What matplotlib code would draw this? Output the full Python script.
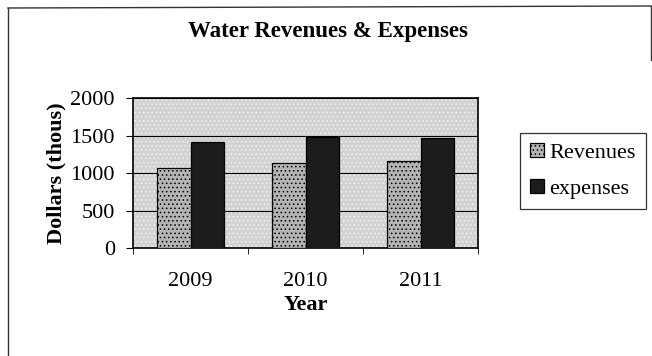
import numpy as np
import matplotlib.pyplot as plt
from matplotlib.lines import Line2D
from matplotlib.patches import Rectangle

plt.rcParams['font.family'] = ['Liberation Serif', 'DejaVu Serif']
plt.rcParams['hatch.linewidth'] = 0.6

years = ["2009", "2010", "2011"]
revenues = [1070, 1130, 1160]
expenses = [1420, 1480, 1470]

W, H = 652, 356
fig = plt.figure(figsize=(W / 100, H / 100), dpi=100)


def px(x, y):
    return x / W, 1 - y / H


# outer chart border (left, top, and a short piece on the right as in the scan)
for (x0, y0), (x1, y1) in [((8, 8), (8, 356)), ((8, 8), (651, 6)), ((651, 6), (651, 60))]:
    a, b = px(x0, y0)
    c, d = px(x1, y1)
    fig.add_artist(Line2D([a, c], [b, d], transform=fig.transFigure,
                          color="#333333", linewidth=1.0))

# plot area in pixels: x 133-478, y 98-248
ax = fig.add_axes([133 / W, 1 - 248 / H, (478 - 133) / W, (248 - 98) / H])
ax.set_facecolor("#d2d2d2")
ax.add_patch(Rectangle((0, 0), 1, 1, transform=ax.transAxes, fill=False,
                       hatch="....", edgecolor="#f2f2f2", linewidth=0, zorder=0))

x = np.arange(len(years))
bw = 0.29
rev_bars = ax.bar(x - bw / 2, revenues, bw, color="#b4b4b4", edgecolor="black",
                  linewidth=0.9, hatch="....", zorder=3)
exp_bars = ax.bar(x + bw / 2, expenses, bw, color="#1c1c1c", edgecolor="black",
                  linewidth=0.9, zorder=3)

ax.set_xlim(-0.5, 2.5)
ax.set_ylim(0, 2000)
ax.set_yticks([0, 500, 1000, 1500, 2000])
ax.yaxis.grid(True, color="black", linewidth=0.8, zorder=1)
ax.set_axisbelow(True)
ax.set_xticks(x)
ax.set_xticklabels(years)
ax.set_xticks([-0.5, 0.5, 1.5, 2.5], minor=True)
ax.tick_params(axis="x", which="major", length=0, labelsize=16, pad=17)
ax.tick_params(axis="x", which="minor", length=4, direction="out")
ax.tick_params(axis="y", length=5, direction="out", labelsize=16, pad=8)
for s in ax.spines.values():
    s.set_linewidth(1.2)

ax.set_ylabel("Dollars (thous)", fontsize=16, fontweight="bold", labelpad=3)
ax.set_xlabel("Year", fontsize=16, fontweight="bold", labelpad=3)
fig.text(328 / W, 1 - 32 / H, "Water Revenues & Expenses", ha="center",
         va="center", fontsize=16.5, fontweight="bold")

leg = fig.legend([rev_bars, exp_bars], ["Revenues", "expenses"], loc="center",
                 bbox_to_anchor=px(583, 171), fontsize=16,
                 frameon=True, fancybox=False, edgecolor="black",
                 handlelength=0.6, handleheight=0.6, handletextpad=0.25,
                 labelspacing=0.75, borderpad=0.45, borderaxespad=0)
leg.get_frame().set_linewidth(0.9)

fig.savefig("out.png", dpi=100)
